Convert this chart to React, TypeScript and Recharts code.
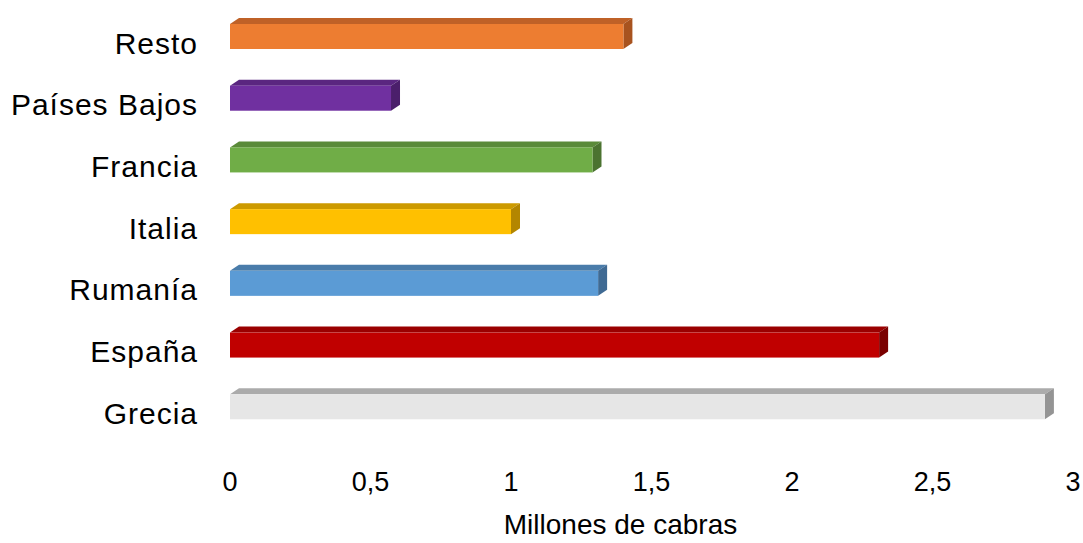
import { BarChart, Bar, XAxis, YAxis, Cell } from "recharts";

const categories = ["Resto", "Países Bajos", "Francia", "Italia", "Rumanía", "España", "Grecia"];
const values = [1.4, 0.573, 1.29, 1.0, 1.31, 2.31, 2.9];
const frontColors = ["#ED7D31", "#7030A0", "#70AD47", "#FFC000", "#5B9BD5", "#C00000", "#E6E6E6"];
const topColors = ["#BF6127", "#5A2680", "#5A8A39", "#CC9A00", "#4A7CAA", "#9A0000", "#ABABAB"];
const sideColors = ["#A8531F", "#4B1F6B", "#4B7330", "#B38600", "#3F6A93", "#7A0000", "#949494"];
const xTicks = [0, 0.5, 1, 1.5, 2, 2.5, 3];

const data = categories.map((name, i) => ({ name, value: values[i], i }));

const DX = 9;
const DY = 6;
const SHIFT = -6;

// front face + top face + right face, a fake 3D box
function Box3D(props: any) {
  const { x, y, width, height, payload } = props;
  if (width == null || width <= 0) return null;
  const i = payload.i;
  const fy = y + SHIFT;
  const x2 = x + width;
  return (
    <g>
      <polygon
        points={`${x},${fy} ${x + DX},${fy - DY} ${x2 + DX},${fy - DY} ${x2},${fy}`}
        fill={topColors[i]}
      />
      <polygon
        points={`${x2},${fy} ${x2 + DX},${fy - DY} ${x2 + DX},${fy + height - DY} ${x2},${fy + height}`}
        fill={sideColors[i]}
      />
      <rect x={x} y={fy} width={width} height={height} fill={frontColors[i]} />
    </g>
  );
}

export default function App() {
  return (
    <div style={{ position: "absolute", left: 0, top: 0, width: 1083, height: 543, background: "#fff" }}>
      <BarChart
        width={1083}
        height={543}
        data={data}
        layout="vertical"
        margin={{ top: 12, right: 10, bottom: 0, left: 0 }}
        style={{ fontFamily: "Liberation Sans, Arial, sans-serif" }}
      >
        <XAxis
          type="number"
          domain={[0, 3]}
          ticks={xTicks}
          axisLine={false}
          tickLine={false}
          tickSize={0}
          tickMargin={28}
          height={99}
          tickFormatter={(v: number) => String(v).replace(".", ",")}
          tick={{ fontSize: 27, fill: "#000" }}
          label={{
            value: "Millones de cabras",
            position: "insideBottom",
            offset: 9,
            dx: -31,
            style: { fontSize: 28, fill: "#000" },
          }}
        />
        <YAxis
          type="category"
          dataKey="name"
          width={230}
          axisLine={false}
          tickLine={false}
          tickSize={0}
          tickMargin={32}
          interval={0}
          tick={{ fontSize: 30, fill: "#000", letterSpacing: 1 }}
        />
        <Bar dataKey="value" barSize={25} shape={<Box3D />} isAnimationActive={false}>
          {data.map((d) => (
            <Cell key={d.name} fill={frontColors[d.i]} />
          ))}
        </Bar>
      </BarChart>
    </div>
  );
}
